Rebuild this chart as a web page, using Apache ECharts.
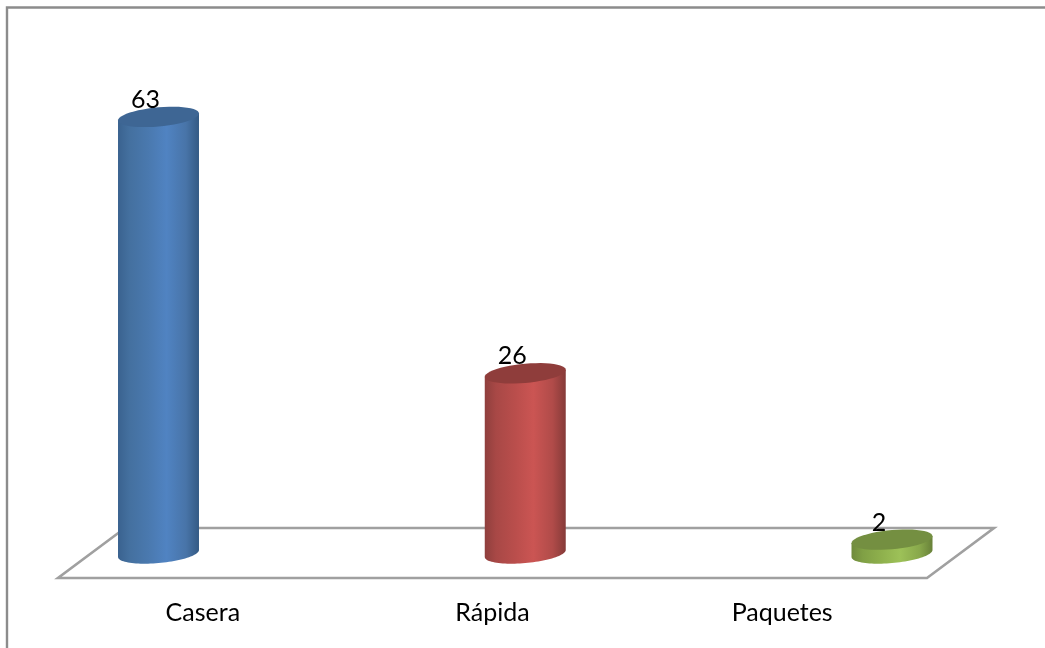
<!DOCTYPE html>
<html>
<head>
<meta charset="utf-8">
<style>html,body{margin:0;padding:0;background:#fff}#chart{width:1045px;height:648px}</style>
<script src="https://cdn.jsdelivr.net/npm/echarts@6/dist/echarts.min.js"></script>
</head>
<body>
<div id="chart"></div>
<script>
// Tipos de comida: cilindros sobre un plano en perspectiva
const categories = ['Casera', 'Rápida', 'Paquetes'];
const values = [63, 26, 2];

const bodyStops = [
  [[0, '#3a628f'], [0.14, '#44709f'], [0.38, '#4a79af'], [0.6, '#5083c2'], [0.84, '#4874a8'], [1, '#345a84']],
  [[0, '#8f3f3d'], [0.14, '#a84846'], [0.38, '#ba4e4c'], [0.6, '#cb5553'], [0.84, '#b04b49'], [1, '#853a38']],
  [[0, '#6f8a3c'], [0.14, '#80a045'], [0.38, '#8fb14d'], [0.6, '#9dc158'], [0.84, '#88a84b'], [1, '#688139']]
];
const topColors = ['#3e6694', '#8f3d3b', '#748f41'];

const chart = echarts.init(document.getElementById('chart'), null, { renderer: 'canvas' });

// Contorno de elipse inclinada; los extremos laterales quedan sobre las paredes del cilindro
function ellipsePoints(cx, cy, a, tilt, b, from, to) {
  const pts = [];
  const steps = 48;
  for (let i = 0; i <= steps; i++) {
    const t = from + (to - from) * i / steps;
    pts.push([cx + a * Math.cos(t), cy - tilt * Math.cos(t) + b * Math.sin(t)]);
  }
  return pts;
}

function renderCylinder(params, api) {
  const idx = api.value(0);
  const val = api.value(1);
  const top = api.coord([idx, val]);
  const base = api.coord([idx, 0]);
  const step = api.coord([1, 0])[0] - api.coord([0, 0])[0];
  const a = step * 0.1104;
  const tilt = 3.5;
  const b = 9.6;
  const cx = top[0];

  const lower = ellipsePoints(cx, base[1], a, tilt, b, Math.PI, 0);
  const body = [[cx - a, top[1] + tilt]].concat(lower, [[cx + a, top[1] - tilt]]);
  const disc = ellipsePoints(cx, top[1], a, tilt, b, 0, Math.PI * 2);

  return {
    type: 'group',
    children: [
      {
        type: 'polygon',
        shape: { points: body },
        style: {
          fill: new echarts.graphic.LinearGradient(0, 0, 1, 0,
            bodyStops[idx].map(s => ({ offset: s[0], color: s[1] })))
        }
      },
      { type: 'polygon', shape: { points: disc }, style: { fill: topColors[idx] } },
      {
        type: 'text',
        style: {
          x: cx - 13,
          y: top[1] - 17,
          text: String(val),
          fill: '#000',
          font: '25px Lato',
          align: 'center',
          verticalAlign: 'middle'
        }
      }
    ]
  };
}

chart.setOption({
  animation: false,
  backgroundColor: '#fff',
  graphic: [
    {
      type: 'polyline',
      z: 0,
      shape: { points: [[7, 648], [7, 7.5], [1045, 7.5]] },
      style: { stroke: '#8c8c8c', lineWidth: 2.4, fill: null }
    },
    {
      type: 'polygon',
      z: 0,
      shape: { points: [[58, 578], [927, 578], [994, 528], [125, 528]] },
      style: { stroke: '#a0a0a0', lineWidth: 2.6, fill: '#fff' }
    }
  ],
  grid: [
    { left: 58, width: 869, top: 68.4, bottom: 70 },
    { left: 158.5, width: 733.5, top: 68.4, bottom: 94.5 }
  ],
  xAxis: [
    {
      type: 'category',
      gridIndex: 0,
      data: categories,
      axisLine: { show: false },
      axisTick: { show: false },
      axisLabel: { color: '#000', fontFamily: 'Lato', fontSize: 25, margin: 22 }
    },
    {
      type: 'category',
      gridIndex: 1,
      data: categories,
      boundaryGap: false,
      show: false
    }
  ],
  yAxis: [
    { type: 'value', gridIndex: 0, show: false },
    { type: 'value', gridIndex: 1, min: 0, max: 70, show: false }
  ],
  series: [
    {
      type: 'custom',
      xAxisIndex: 1,
      yAxisIndex: 1,
      clip: false,
      z: 5,
      renderItem: renderCylinder,
      encode: { x: 0, y: 1 },
      data: values.map((v, i) => [i, v])
    }
  ]
});
</script>
</body>
</html>
